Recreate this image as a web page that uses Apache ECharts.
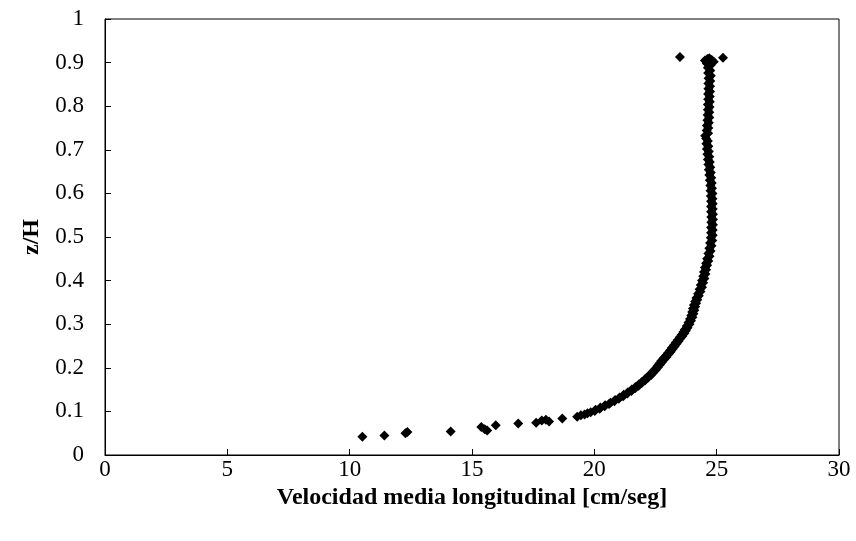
<!DOCTYPE html>
<html>
<head>
<meta charset="utf-8">
<script src="https://cdn.jsdelivr.net/npm/echarts@6/dist/echarts.min.js"></script>
<style>
html,body{margin:0;padding:0;background:#fff;}
#chart{width:856px;height:541px;}
</style>
</head>
<body>
<div id="chart"></div>
<script>
// ---- DATA (velocity [cm/seg], z/H) ----
const xTitle = "Velocidad media longitudinal [cm/seg]";
const yTitle = "z/H";
const xTickLabels = ["0","5","10","15","20","25","30"];
const yTickLabels = ["0","0.1","0.2","0.3","0.4","0.5","0.6","0.7","0.8","0.9","1"];

const nearBedPoints = [
  [10.52,0.042],[11.42,0.045],[12.28,0.050],[12.36,0.053],[14.13,0.054],
  [15.38,0.064],[15.52,0.059],[15.62,0.056],[15.97,0.068],[16.89,0.072],
  [17.62,0.074],[17.85,0.079],[18.02,0.081],[18.15,0.077],[18.69,0.084],
  [19.30,0.088],[19.45,0.091],[19.60,0.093],[19.72,0.096]
];

const profilePoints = [
  [19.85,0.098],[20.02,0.101],[20.05,0.104],[20.22,0.106],[20.25,0.109],
  [20.42,0.112],[20.44,0.114],[20.60,0.117],[20.66,0.120],[20.82,0.123],
  [20.85,0.126],[21.00,0.129],[21.03,0.132],[21.18,0.135],[21.20,0.138],
  [21.35,0.141],[21.37,0.144],[21.52,0.147],[21.53,0.150],[21.67,0.153],
  [21.68,0.156],[21.81,0.159],[21.82,0.162],[21.94,0.165],[21.95,0.168],
  [22.07,0.171],[22.07,0.174],[22.19,0.177],[22.19,0.180],[22.31,0.183],
  [22.30,0.186],[22.41,0.189],[22.40,0.192],[22.51,0.195],[22.50,0.198],
  [22.60,0.201],[22.58,0.204],[22.68,0.207],[22.66,0.210],[22.76,0.213],
  [22.74,0.216],[22.85,0.219],[22.83,0.222],[22.95,0.225],[22.93,0.228],
  [23.03,0.231],[23.01,0.234],[23.12,0.237],[23.10,0.240],[23.20,0.243],
  [23.17,0.246],[23.28,0.249],[23.25,0.252],[23.36,0.255],[23.33,0.258],
  [23.44,0.261],[23.41,0.264],[23.52,0.267],[23.49,0.270],[23.60,0.273],
  [23.57,0.276],[23.68,0.279],[23.64,0.282],[23.74,0.285],[23.70,0.288],
  [23.81,0.292],[23.78,0.296],[23.89,0.300],[23.85,0.304],[23.95,0.308],
  [23.91,0.312],[24.01,0.316],[23.96,0.320],[24.05,0.324],[24.00,0.328],
  [24.09,0.332],[24.03,0.336],[24.12,0.340],[24.07,0.344],[24.16,0.348],
  [24.12,0.352],[24.21,0.356],[24.17,0.360],[24.27,0.365],[24.24,0.370],
  [24.34,0.375],[24.30,0.380],[24.40,0.385],[24.35,0.390],[24.45,0.395],
  [24.40,0.400],[24.50,0.405],[24.45,0.410],[24.54,0.415],[24.48,0.420],
  [24.57,0.425],[24.52,0.430],[24.61,0.435],[24.57,0.440],[24.66,0.445],
  [24.61,0.450],[24.71,0.456],[24.66,0.462],[24.75,0.468],[24.70,0.474],
  [24.79,0.480],[24.73,0.486],[24.82,0.492],[24.76,0.498],[24.84,0.504],
  [24.77,0.510],[24.84,0.516],[24.77,0.522],[24.85,0.528],[24.78,0.534],
  [24.85,0.540],[24.78,0.546],[24.85,0.552],[24.77,0.558],[24.84,0.564],
  [24.77,0.570],[24.84,0.576],[24.77,0.582],[24.83,0.588],[24.76,0.594],
  [24.83,0.600],[24.75,0.606],[24.81,0.612],[24.74,0.618],[24.80,0.624],
  [24.72,0.630],[24.78,0.636],[24.70,0.642],[24.76,0.648],[24.68,0.654],
  [24.74,0.660],[24.66,0.666],[24.72,0.672],[24.64,0.678],[24.70,0.684],
  [24.62,0.690],[24.68,0.696],[24.60,0.702],[24.66,0.708],[24.58,0.714],
  [24.64,0.720],[24.57,0.726],[24.53,0.732],[24.65,0.738],[24.59,0.744],
  [24.66,0.750],[24.60,0.756],[24.68,0.762],[24.62,0.768],[24.70,0.774],
  [24.63,0.780],[24.70,0.786],[24.64,0.792],[24.71,0.798],[24.64,0.804],
  [24.72,0.810],[24.65,0.816],[24.72,0.822],[24.65,0.828],[24.73,0.834],
  [24.66,0.840],[24.73,0.846],[24.66,0.852],[24.74,0.858],[24.67,0.864],
  [24.76,0.870],[24.65,0.876],[24.74,0.882],[24.64,0.888],[24.75,0.894],
  [24.60,0.898],[24.72,0.902]
];

const surfacePoints = [
  [24.52,0.905],[24.62,0.908],[24.80,0.906],[24.88,0.902],[24.70,0.910],
  [23.50,0.913],[25.26,0.911]
];

const allPoints = nearBedPoints.concat(profilePoints, surfacePoints);

const chart = echarts.init(document.getElementById('chart'), null, {renderer:'canvas'});
const serif = '"Liberation Serif","Times New Roman",serif';

chart.setOption({
  backgroundColor: '#ffffff',
  animation: false,
  grid: {
    left: 105, right: 17, top: 19, bottom: 86,
    show: true, borderColor: '#000', borderWidth: 1, backgroundColor: 'transparent'
  },
  xAxis: {
    type: 'value', min: 0, max: 30, interval: 5,
    name: xTitle, nameLocation: 'middle', nameGap: 30,
    nameTextStyle: {fontFamily: serif, fontWeight: 'bold', fontSize: 24, color: '#000'},
    axisLine: {show: true, onZero: false, lineStyle: {color: '#000', width: 1}},
    axisTick: {show: true, inside: true, length: 6, lineStyle: {color: '#000'}},
    axisLabel: {
      fontFamily: serif, fontSize: 23, color: '#000', margin: 3,
      formatter: (v) => xTickLabels[Math.round(v / 5)]
    },
    splitLine: {show: false}
  },
  yAxis: {
    type: 'value', min: 0, max: 1, interval: 0.1,
    name: yTitle, nameLocation: 'middle', nameGap: 61, nameRotate: 90,
    nameTextStyle: {fontFamily: serif, fontWeight: 'bold', fontSize: 24, color: '#000'},
    axisLine: {show: true, onZero: false, lineStyle: {color: '#000', width: 1}},
    axisTick: {show: true, inside: true, length: 6, lineStyle: {color: '#000'}},
    axisLabel: {
      fontFamily: serif, fontSize: 23, color: '#000', margin: 21,
      formatter: (v) => yTickLabels[Math.round(v * 10)]
    },
    splitLine: {show: false}
  },
  series: [{
    type: 'scatter',
    data: allPoints,
    symbol: 'diamond',
    symbolSize: 10,
    itemStyle: {color: '#000', opacity: 1}
  }]
});
</script>
</body>
</html>
